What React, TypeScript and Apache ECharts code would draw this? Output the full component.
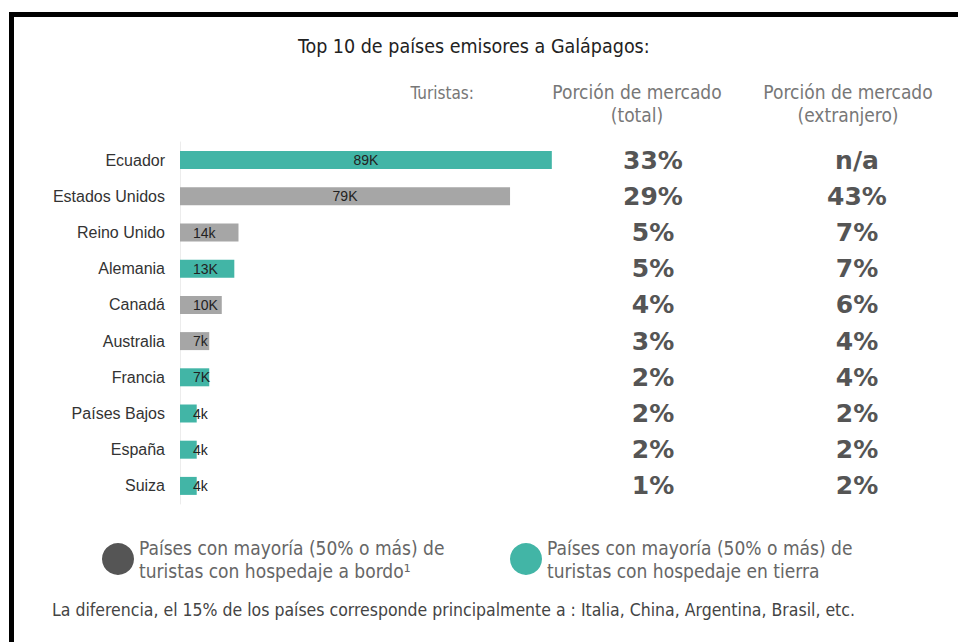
import React, { useEffect, useRef } from "react";
import * as echarts from "echarts";

const countries = ["Ecuador", "Estados Unidos", "Reino Unido", "Alemania", "Canadá", "Australia", "Francia", "Países Bajos", "España", "Suiza"];
const tourists = [89, 79, 14, 13, 10, 7, 7, 4, 4, 4];
const touristLabels = ["89K", "79K", "14k", "13K", "10K", "7k", "7K", "4k", "4k", "4k"];
const lodging = ["tierra", "bordo", "bordo", "tierra", "bordo", "bordo", "tierra", "tierra", "tierra", "tierra"];
const shareTotal = ["33%", "29%", "5%", "5%", "4%", "3%", "2%", "2%", "2%", "1%"];
const shareForeign = ["n/a", "43%", "7%", "7%", "6%", "4%", "4%", "2%", "2%", "2%"];

const NAME_BORDO = "Países con mayoría (50% o más) de\nturistas con hospedaje a bordo¹";
const NAME_TIERRA = "Países con mayoría (50% o más) de\nturistas con hospedaje en tierra";

const TEAL = "#42b5a6";
const GRAY = "#a6a6a6";
const DARK = "#555555";
const NARROW = "'DejaVu Sans Condensed', 'Liberation Sans Narrow', 'Liberation Sans', sans-serif";

function seriesData(group: string) {
  return tourists.map((v, i) => {
    if (lodging[i] !== group) return "-";
    const big = v > 50;
    return {
      value: v,
      label: {
        show: true,
        formatter: touristLabels[i],
        position: big ? "inside" : "insideLeft",
        distance: big ? 5 : 13,
        color: "#222",
        fontSize: 14,
        fontFamily: "'Liberation Sans', Arial, sans-serif",
      },
    };
  });
}

export default function App() {
  const ref = useRef<HTMLDivElement>(null);
  useEffect(() => {
    if (!ref.current) return;
    const chart = echarts.init(ref.current, null, { renderer: "svg" });
    const top = 142;
    const height = 362;
    const pctAxis = (gridIndex: number, arr: string[]) => ({
      type: "category",
      gridIndex,
      data: countries,
      inverse: true,
      axisLine: { show: false },
      axisTick: { show: false },
      axisLabel: {
        formatter: (_v: string, idx: number) => arr[idx],
        align: "center",
        margin: 0,
        fontSize: 25,
        fontWeight: "bold",
        fontFamily: "'DejaVu Sans', Verdana, sans-serif",
        color: "#555",
        padding: [14, 0, 0, 0],
      },
    });
    const legendText = { fontFamily: NARROW, fontSize: 19, color: "#666", lineHeight: 23 };
    chart.setOption({
      animation: false,
      backgroundColor: "#ffffff",
      title: [
        {
          text: "Top 10 de países emisores a Galápagos:",
          left: 298,
          top: 36,
          padding: 0,
          textStyle: { fontFamily: NARROW, fontSize: 19.5, fontWeight: "normal", color: "#222" },
        },
      ],
      legend: [
        {
          data: [{ name: NAME_BORDO, itemStyle: { color: DARK } }],
          left: 102,
          top: 536,
          padding: 0,
          icon: "circle",
          itemWidth: 32,
          itemHeight: 32,
          selectedMode: false,
          textStyle: legendText,
        },
        {
          data: [{ name: NAME_TIERRA, itemStyle: { color: TEAL } }],
          left: 510,
          top: 536,
          padding: 0,
          icon: "circle",
          itemWidth: 32,
          itemHeight: 32,
          selectedMode: false,
          textStyle: legendText,
        },
      ],
      grid: [
        { left: 180, top, width: 376, height },
        { left: 653, top, width: 1, height },
        { left: 857, top, width: 1, height },
      ],
      xAxis: [
        { type: "value", gridIndex: 0, min: 0, max: 90, show: false },
        { type: "value", gridIndex: 1, min: 0, max: 1, show: false },
        { type: "value", gridIndex: 2, min: 0, max: 1, show: false },
      ],
      yAxis: [
        {
          type: "category",
          gridIndex: 0,
          data: countries,
          inverse: true,
          axisLine: { show: true, lineStyle: { color: "#ececec", width: 1 } },
          axisTick: { show: false },
          axisLabel: {
            margin: 15,
            fontSize: 16,
            color: "#333",
            fontFamily: "'Liberation Sans', Arial, sans-serif",
          },
        },
        pctAxis(1, shareTotal),
        pctAxis(2, shareForeign),
      ],
      series: [
        {
          name: NAME_BORDO,
          type: "bar",
          stack: "t",
          xAxisIndex: 0,
          yAxisIndex: 0,
          barWidth: 18,
          itemStyle: { color: GRAY },
          data: seriesData("bordo"),
        },
        {
          name: NAME_TIERRA,
          type: "bar",
          stack: "t",
          xAxisIndex: 0,
          yAxisIndex: 0,
          barWidth: 18,
          itemStyle: { color: TEAL },
          data: seriesData("tierra"),
        },
      ],
      graphic: [
        { type: "rect", left: 9, top: 12, shape: { width: 949, height: 5 }, style: { fill: "#000" } },
        { type: "rect", left: 9, top: 12, shape: { width: 5, height: 630 }, style: { fill: "#000" } },
        {
          type: "text",
          x: 474,
          y: 93,
          style: { text: "Turistas:", align: "right", verticalAlign: "middle", font: `17px ${NARROW}`, fill: "#777" },
        },
        {
          type: "text",
          x: 637,
          y: 103,
          style: {
            text: "Porción de mercado\n(total)",
            align: "center",
            verticalAlign: "middle",
            font: `19px ${NARROW}`,
            lineHeight: 23,
            fill: "#777",
          },
        },
        {
          type: "text",
          x: 848,
          y: 103,
          style: {
            text: "Porción de mercado\n(extranjero)",
            align: "center",
            verticalAlign: "middle",
            font: `19px ${NARROW}`,
            lineHeight: 23,
            fill: "#777",
          },
        },
        {
          type: "text",
          x: 52,
          y: 610,
          style: {
            text: "La diferencia, el 15% de los países corresponde principalmente a : Italia, China, Argentina, Brasil, etc.",
            align: "left",
            verticalAlign: "middle",
            font: `17.5px ${NARROW}`,
            fill: "#444",
          },
        },
      ],
    });
    return () => chart.dispose();
  }, []);
  return <div ref={ref} style={{ position: "fixed", left: 0, top: 0, width: 958, height: 642 }} />;
}
